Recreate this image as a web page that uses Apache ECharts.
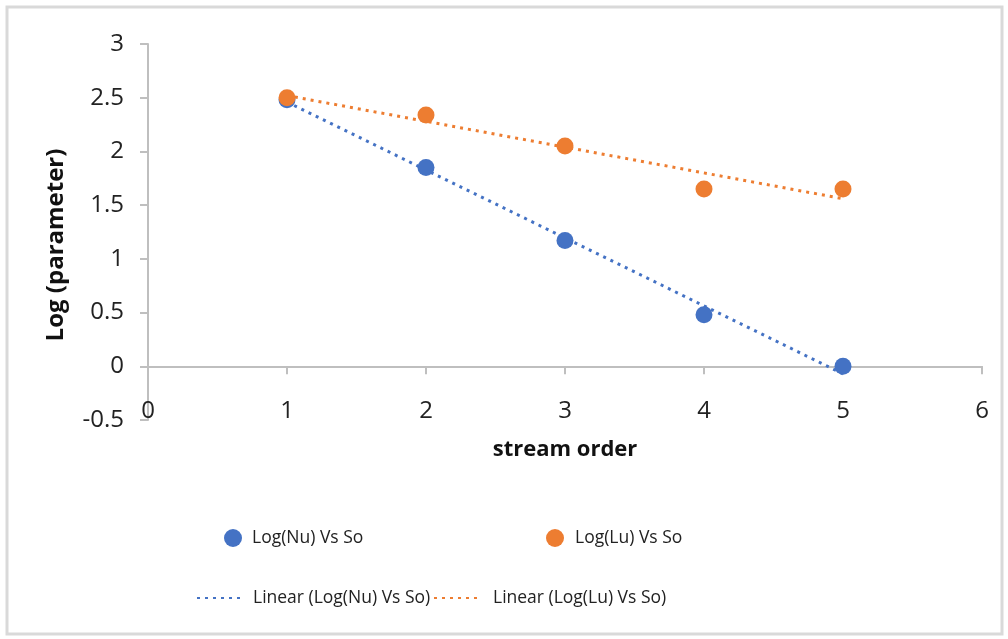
<!DOCTYPE html>
<html><head><meta charset="utf-8">
<script src="https://cdn.jsdelivr.net/npm/echarts@6/dist/echarts.min.js"></script>
<style>html,body{margin:0;padding:0;background:#fff}#c{width:1008px;height:639px}</style>
</head><body><div id="c"></div>
<script>
const streamOrder = [1, 2, 3, 4, 5];
const logNu = [2.48, 1.85, 1.17, 0.48, 0.0];
const logLu = [2.50, 2.34, 2.05, 1.65, 1.65];
// trendline end points
const trendX = [1, 5];
const trendNu = [2.46, -0.07];
const trendLu = [2.52, 1.56];
const seriesNames = ['Log(Nu) Vs So', 'Log(Lu) Vs So', 'Linear (Log(Nu) Vs So)', 'Linear (Log(Lu) Vs So)'];

const FONT = '"Open Sans", sans-serif';
const BLUE = '#4472C4', ORANGE = '#ED7D31';
const pairs = (xs, ys) => xs.map((x, i) => [x, ys[i]]);
const legTxt = {fontSize: 17.5, fontFamily: FONT, color: '#222'};

const chart = echarts.init(document.getElementById('c'));
chart.setOption({
  animation: false,
  backgroundColor: '#fff',
  graphic: [{type: 'rect', shape: {x: 7, y: 7, width: 995, height: 627},
    style: {fill: 'none', stroke: '#d9d9d9', lineWidth: 3}, silent: true}],
  grid: {left: 148, right: 26, top: 44, bottom: 219},
  xAxis: {
    type: 'value', min: 0, max: 6, interval: 1,
    axisLine: {onZero: true, lineStyle: {color: '#bfbfbf', width: 2}},
    axisTick: {show: true, length: 8, lineStyle: {color: '#bfbfbf', width: 2}},
    axisLabel: {color: '#222', fontSize: 24, fontFamily: FONT, margin: -21},
    splitLine: {show: false},
    name: 'stream order', nameLocation: 'middle', nameGap: 19,
    nameTextStyle: {color: '#111', fontSize: 22, fontWeight: 'bold', fontFamily: FONT}
  },
  yAxis: {
    type: 'value', min: -0.5, max: 3, interval: 0.5,
    axisLine: {show: true, onZero: false, lineStyle: {color: '#bfbfbf', width: 2}},
    axisTick: {show: true, length: 8, lineStyle: {color: '#bfbfbf', width: 2}},
    axisLabel: {color: '#222', fontSize: 24, fontFamily: FONT, margin: 24},
    splitLine: {show: false},
    name: 'Log (parameter)', nameLocation: 'middle', nameGap: 80, nameRotate: 90,
    nameTextStyle: {color: '#111', fontSize: 24, fontWeight: 'bold', fontFamily: FONT, padding: [0, 26, 0, 0]}
  },
  legend: [{
    data: [seriesNames[0]], left: 219, top: 524, itemWidth: 18, itemHeight: 18,
    textStyle: Object.assign({padding: [0, 0, 0, 5]}, legTxt)
  }, {
    data: [seriesNames[1]], left: 541, top: 524, itemWidth: 18, itemHeight: 18,
    textStyle: Object.assign({padding: [0, 0, 0, 6]}, legTxt)
  }, {
    data: [{name: seriesNames[2], itemStyle: {opacity: 0}}], left: 191, top: 584, itemWidth: 44, itemHeight: 14,
    textStyle: Object.assign({padding: [0, 0, 0, 7]}, legTxt)
  }, {
    data: [{name: seriesNames[3], itemStyle: {opacity: 0}}], left: 428, top: 584, itemWidth: 45, itemHeight: 14,
    textStyle: Object.assign({padding: [0, 0, 0, 9]}, legTxt)
  }],
  series: [
    {name: seriesNames[2], type: 'line', data: pairs(trendX, trendNu),
     symbol: 'none', lineStyle: {color: BLUE, width: 3, type: [3, 5]}, itemStyle: {color: BLUE}, z: 3},
    {name: seriesNames[3], type: 'line', data: pairs(trendX, trendLu),
     symbol: 'none', lineStyle: {color: ORANGE, width: 3, type: [3, 5]}, itemStyle: {color: ORANGE}, z: 3},
    {name: seriesNames[0], type: 'scatter', data: pairs(streamOrder, logNu),
     symbol: 'circle', symbolSize: 17, itemStyle: {color: BLUE, opacity: 1}, z: 4},
    {name: seriesNames[1], type: 'scatter', data: pairs(streamOrder, logLu),
     symbol: 'circle', symbolSize: 17, itemStyle: {color: ORANGE, opacity: 1}, z: 5}
  ]
});
</script></body></html>
